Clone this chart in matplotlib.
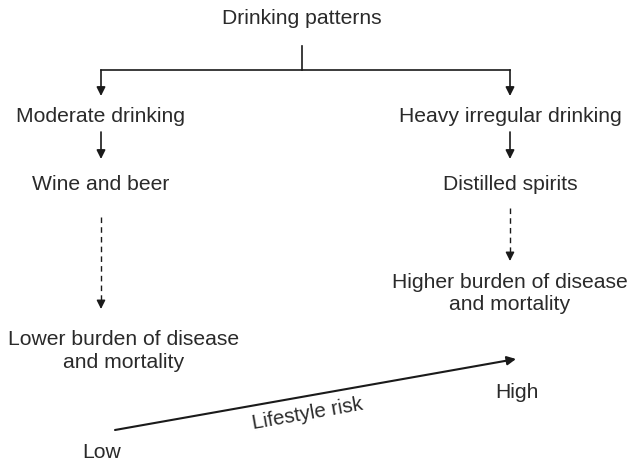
import matplotlib.pyplot as plt

plt.rcParams["font.family"] = ["Liberation Sans", "DejaVu Sans"]

TITLE = "Drinking patterns"
LEFT_LABELS = ["Moderate drinking", "Wine and beer", "Lower burden of disease\nand mortality"]
RIGHT_LABELS = ["Heavy irregular drinking", "Distilled spirits", "Higher burden of disease\nand mortality"]
RISK_LABEL = "Lifestyle risk"
RISK_ENDS = ["Low", "High"]

# layout in pixel coordinates (y down)
LEFT_X = 101
RIGHT_X = 510
TEXT_COLOR = "#2a2a2a"
LINE_COLOR = "#1a1a1a"
FS = 15.2


def arrow(ax, x0, y0, x1, y1, lw=1.2):
    ax.annotate("", xy=(x1, y1), xytext=(x0, y0),
                arrowprops=dict(arrowstyle="-|>", color=LINE_COLOR, lw=lw,
                                mutation_scale=13, shrinkA=0, shrinkB=0))


def dashed_arrow(ax, x, y0, y1):
    ax.plot([x, x], [y0, y1 - 6], color=LINE_COLOR, lw=1.0, ls=(0, (4, 3)))
    arrow(ax, x, y1 - 7, x, y1, lw=1.0)


fig = plt.figure(figsize=(6.28, 4.63), dpi=100)
ax = fig.add_axes([0, 0, 1, 1])
ax.set_xlim(0, 628)
ax.set_ylim(463, 0)
ax.axis("off")

ax.text(302, 18, TITLE, ha="center", va="center", fontsize=FS, color=TEXT_COLOR)
ax.plot([302, 302], [46, 70], color=LINE_COLOR, lw=1.2)
ax.plot([LEFT_X, RIGHT_X], [70, 70], color=LINE_COLOR, lw=1.2)
for x in (LEFT_X, RIGHT_X):
    arrow(ax, x, 70, x, 96)

# left column
ax.text(LEFT_X, 117, LEFT_LABELS[0], ha="center", va="center", fontsize=FS, color=TEXT_COLOR)
arrow(ax, LEFT_X, 132, LEFT_X, 159)
ax.text(LEFT_X, 185, LEFT_LABELS[1], ha="center", va="center", fontsize=FS, color=TEXT_COLOR)
dashed_arrow(ax, LEFT_X, 217, 309)
ax.text(124, 351, LEFT_LABELS[2], ha="center", va="center", fontsize=FS, color=TEXT_COLOR,
        linespacing=1.3)

# right column
ax.text(RIGHT_X, 117, RIGHT_LABELS[0], ha="center", va="center", fontsize=FS, color=TEXT_COLOR)
arrow(ax, RIGHT_X, 132, RIGHT_X, 159)
ax.text(RIGHT_X, 185, RIGHT_LABELS[1], ha="center", va="center", fontsize=FS, color=TEXT_COLOR)
dashed_arrow(ax, RIGHT_X, 208, 261)
ax.text(RIGHT_X, 294, RIGHT_LABELS[2], ha="center", va="center", fontsize=FS, color=TEXT_COLOR,
        linespacing=1.2)

# lifestyle risk axis
arrow(ax, 115, 430, 516, 359, lw=1.5)
ax.text(307, 414, RISK_LABEL, ha="center", va="center", fontsize=FS - 0.5, color=TEXT_COLOR,
        rotation=10, rotation_mode="anchor")
ax.text(102, 452, RISK_ENDS[0], ha="center", va="center", fontsize=FS, color=TEXT_COLOR)
ax.text(517, 393, RISK_ENDS[1], ha="center", va="center", fontsize=FS, color=TEXT_COLOR)

fig.savefig("out.png", dpi=100)
